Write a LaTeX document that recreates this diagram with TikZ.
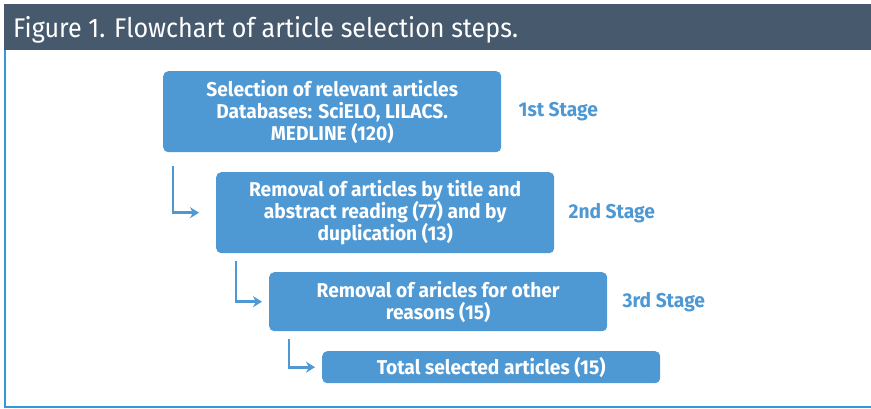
\documentclass[tikz,border=0pt]{standalone}
\usepackage{fontspec}
\setmainfont{Fira Sans}
\newfontfamily\titlefont[FakeStretch=0.93]{Fira Sans}
\newfontfamily\boxfont[FakeStretch=0.96]{Fira Sans}
\usetikzlibrary{arrows.meta,positioning}
\definecolor{cHead} {RGB}{70,89,109}
\definecolor{cBox}  {RGB}{78,152,211}
\definecolor{cFrame}{RGB}{52,152,219}

\begin{document}
\begin{tikzpicture}[
  x=1pt,y=-1pt,
  stagebox/.style={fill=cBox,rounded corners=5pt,minimum width=338pt,
                   text=white,align=center,inner sep=0pt,
                   font=\boxfont\bfseries\fontsize{20}{22}\selectfont},
  stagelbl/.style={text=cBox,anchor=west,inner sep=0pt,
                   font=\boxfont\bfseries\fontsize{20}{22}\selectfont},
  flow/.style={-{Stealth[length=9pt,width=11pt]},cBox,line width=2.6pt},
]
\useasboundingbox (0,0) rectangle (871,409);

% header and frame
\fill[cHead] (4,4) rectangle (871,50);
\node[anchor=base west,text=white,inner sep=0pt,
      font=\titlefont\fontsize{27}{30}\selectfont] (title) at (13,38)
      {Figure 1. Flowchart of article selection steps.};
\draw[cFrame,line width=2pt] (5,50) -- (5,407) -- (871,407);

% stages
\node[stagebox,anchor=north west,minimum height=81pt] (b1) at (163,71)
  {Selection of relevant articles\\ Databases: SciELO, LILACS.\\ MEDLINE (120)};
\node[stagebox,anchor=north west,minimum height=81pt] (b2) at (216,172)
  {Removal of articles by title and\\ abstract reading (77) and by\\ duplication (13)};
\node[stagebox,anchor=north west,minimum height=59pt] (b3) at (269,272)
  {Removal of aricles for other\\ reasons (15)};
\node[stagebox,anchor=north west,minimum height=32pt] (b4) at (322,351)
  {Total selected articles (15)};

\node[stagelbl,right=17pt of b1] (s1) {1st Stage};
\node[stagelbl,right=14pt of b2] (s2) {2nd Stage};
\node[stagelbl,right=15pt of b3] (s3) {3rd Stage};

% connectors
\coordinate (a1) at ([xshift=10pt,yshift=-14pt]b1.south west);
\coordinate (e1) at ([xshift=-17pt]b2.west);
\coordinate (a2) at ([xshift=20pt,yshift=-8pt]b2.south west);
\coordinate (e2) at ([xshift=-7pt]b3.west);
\coordinate (a3) at ([xshift=20pt,yshift=-8pt]b3.south west);
\coordinate (e3) at ([xshift=-7pt]b4.west);
\draw[flow] (a1) |- (e1);
\draw[flow] (a2) |- (e2);
\draw[flow] (a3) |- (e3);
\end{tikzpicture}
\end{document}
